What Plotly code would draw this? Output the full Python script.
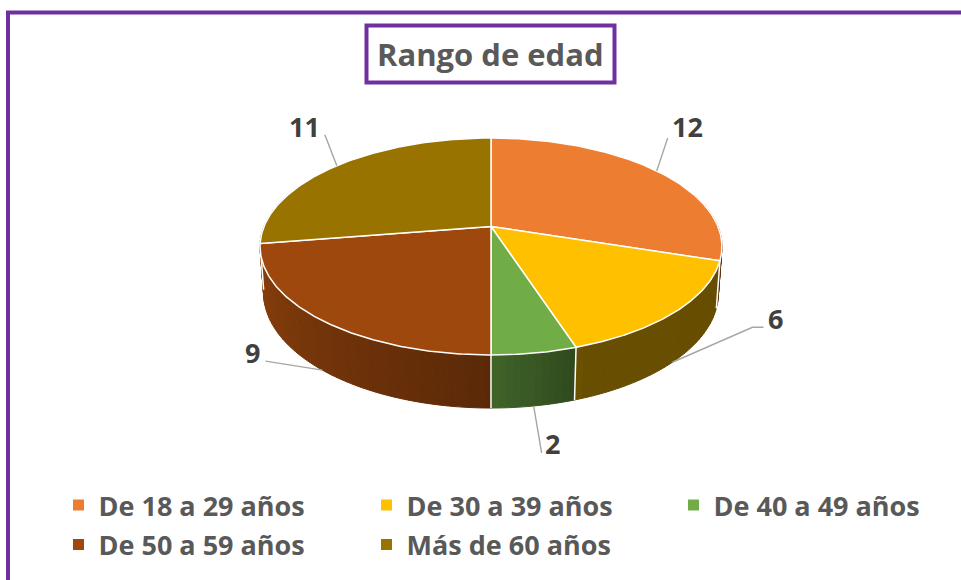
import numpy as np
import plotly.graph_objects as go

# ---- data ----
categories = ["De 18 a 29 años", "De 30 a 39 años", "De 40 a 49 años",
              "De 50 a 59 años", "Más de 60 años"]
values = [12, 6, 2, 9, 11]
colors = ["#ED7D31", "#FFC000", "#70AD47", "#9E480E", "#997300"]
title_text = "Rango de edad"

# ---- layout / geometry (pixel space) ----
W, H = 961, 580
CX, CY = 491.0, 226.5      # centre of top face
A, B = 104.8, 227.0        # semi-axes (perspective corrected)
K, M, C = 0.1843, 0.015, 46.0   # perspective + depth
PURPLE = "#7030A0"
FONT = "Open Sans"

# label placement offsets relative to leader anchor (text centre, leader path)
label_text_off = [(31, -44), (103, -44), (19, 38), (-70, -18), (-32, -39)]
label_path_off = [[(11, -33)], [(80, -35), (91, -35)], [(8, 47)],
                  [(-47, -8), (-57, -9)], [(-12, -31)]]

# legend grid (pixel positions of each entry: column x, row top y)
legend_cols = [58.5, 366.5, 673.5]
legend_rows = [481.0, 520.5]


def proj(t_deg, bottom=False):
    t = np.radians(t_deg)
    X, Y = np.sin(t), -np.cos(t)
    if bottom:
        w = 1 - K * Y + M
        return CX + B * X / w, CY + (A * Y + C) / w
    w = 1 - K * Y
    return CX + B * X / w, CY + A * Y / w


def hex_rgb(h):
    h = h.lstrip("#")
    return [int(h[i:i + 2], 16) for i in (0, 2, 4)]


def shade(h, f):
    r, g, b = hex_rgb(h)
    return "rgb(%d,%d,%d)" % (min(255, r * f), min(255, g * f), min(255, b * f))


def side_factor(t):
    return float(np.interp(t, [0, 90, 160, 180, 270, 360],
                           [0.40, 0.40, 0.41, 0.58, 0.92, 0.92]))


total = float(sum(values))
ends = np.cumsum(values) / total * 360.0
starts = np.concatenate([[0.0], ends[:-1]])

fig = go.Figure()

# ---- side walls ----
segs = []
for i, (a0, a1) in enumerate(zip(starts, ends)):
    n = max(2, int(np.ceil((a1 - a0) / 1.5)))
    ts = np.linspace(a0, a1, n + 1)
    for t0, t1 in zip(ts[:-1], ts[1:]):
        tm = 0.5 * (t0 + t1)
        Ym = -np.cos(np.radians(tm))
        if Ym < -0.3:
            continue
        x0, y0 = proj(t0)
        x1, y1 = proj(t1)
        x2, y2 = proj(t1, True)
        x3, y3 = proj(t0, True)
        segs.append((Ym, [x0, x1, x2, x3, x0], [y0, y1, y2, y3, y0],
                     shade(colors[i], side_factor(tm))))
segs.sort(key=lambda s: s[0])
for _, xs, ys, col in segs:
    fig.add_trace(go.Scatter(x=xs, y=ys, fill="toself", fillcolor=col,
                             mode="lines", line=dict(color=col, width=1),
                             hoverinfo="skip", showlegend=False))

# white edges between side walls
for a in starts:
    if -np.cos(np.radians(a)) > 0:
        xt, yt = proj(a)
        xb, yb = proj(a, True)
        fig.add_trace(go.Scatter(x=[xt, xb], y=[yt, yb], mode="lines",
                                 line=dict(color="white", width=1.5),
                                 hoverinfo="skip", showlegend=False))

# ---- top faces ----
for i, (a0, a1) in enumerate(zip(starts, ends)):
    ts = np.linspace(a0, a1, max(20, int(a1 - a0) * 2))
    xs, ys = proj(ts)
    xs = np.concatenate([[CX], xs, [CX]])
    ys = np.concatenate([[CY], ys, [CY]])
    fig.add_trace(go.Scatter(x=xs, y=ys, fill="toself", fillcolor=colors[i],
                             mode="lines", line=dict(color="white", width=1.5),
                             hoverinfo="skip", showlegend=False))

# ---- leader lines + data labels ----
annotations = []
for i, (a0, a1) in enumerate(zip(starts, ends)):
    tm = 0.5 * (a0 + a1)
    near = -np.cos(np.radians(tm)) > 0
    ax, ay = proj(tm, bottom=near)
    px = [ax] + [ax + dx for dx, dy in label_path_off[i]]
    py = [ay] + [ay + dy for dx, dy in label_path_off[i]]
    fig.add_trace(go.Scatter(x=px, y=py, mode="lines",
                             line=dict(color="#A6A6A6", width=1.4),
                             hoverinfo="skip", showlegend=False))
    tx, ty = label_text_off[i]
    annotations.append(dict(x=ax + tx, y=ay + ty, xref="x", yref="y",
                            text=str(values[i]), showarrow=False,
                            xanchor="center", yanchor="middle",
                            font=dict(family=FONT, size=27, color="#404040",
                                      weight="bold")))

# ---- legend entries (one legend box per entry, laid out on a grid) ----
legend_style = dict(orientation="h", xanchor="left", yanchor="top",
                    font=dict(family=FONT, size=27, color="#595959", weight="bold"),
                    bgcolor="rgba(0,0,0,0)", borderwidth=0)
legend_layout = {}
for k, (cat, col) in enumerate(zip(categories, colors)):
    key = "legend" if k == 0 else "legend%d" % (k + 1)
    fig.add_trace(go.Scatter(x=[None], y=[None], mode="markers", name=cat,
                             marker=dict(symbol="square", size=11, color=col),
                             legend=key, showlegend=True))
    lx = legend_cols[k % 3]
    ly = legend_rows[k // 3]
    legend_layout[key] = dict(x=lx / W, y=1 - ly / H, **legend_style)

# title
annotations.append(dict(x=490.5, y=54, xref="x", yref="y", text=title_text,
                        showarrow=False, xanchor="center", yanchor="middle",
                        font=dict(family=FONT, size=31, color="#595959",
                                  weight="bold")))

shapes = [
    dict(type="rect", xref="x", yref="y", x0=8, y0=12.5, x1=990, y1=620,
         line=dict(color=PURPLE, width=4), layer="below"),
    dict(type="rect", xref="x", yref="y", x0=366.5, y0=25.5, x1=614.5, y1=82.5,
         line=dict(color=PURPLE, width=4), fillcolor="white", layer="below"),
]

fig.update_layout(
    width=W, height=H, autosize=False,
    margin=dict(l=0, r=0, t=0, b=0, pad=0),
    paper_bgcolor="white", plot_bgcolor="white",
    xaxis=dict(range=[0, W], visible=False, fixedrange=True),
    yaxis=dict(range=[H, 0], visible=False, fixedrange=True),
    showlegend=True,
    annotations=annotations, shapes=shapes,
    hovermode=False,
    **legend_layout,
)

fig.write_html("out.html", config={"displayModeBar": False},
               post_script="document.body.style.margin='0px';document.body.style.overflow='hidden';")
